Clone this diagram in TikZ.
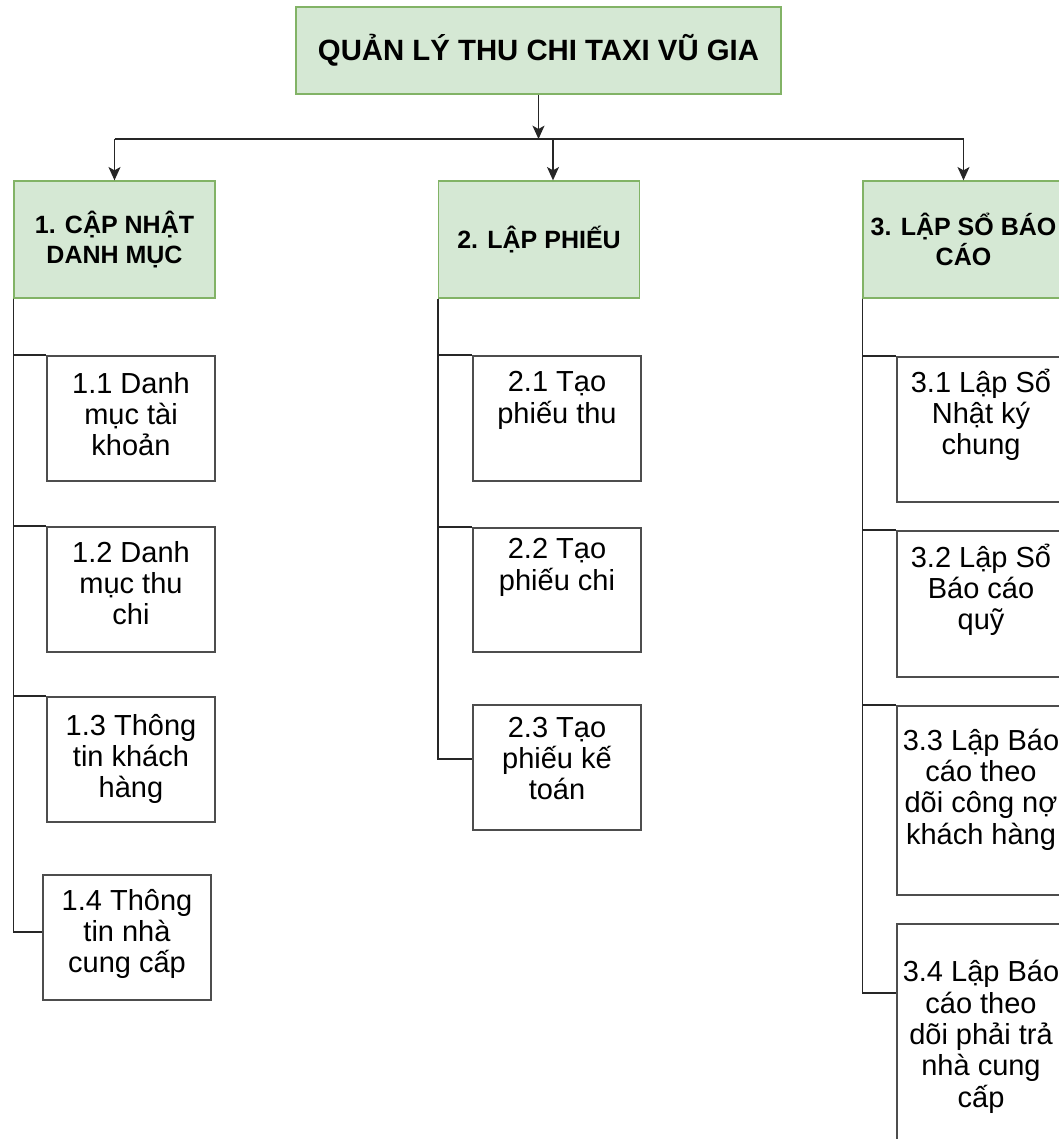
\documentclass[tikz,border=0pt]{standalone}
\usepackage{fontspec}
\setmainfont{Liberation Sans}
\usetikzlibrary{arrows.meta,calc}
\definecolor{gfill}{HTML}{D5E8D4}
\definecolor{gdraw}{HTML}{82B366}
\definecolor{lnc}{HTML}{262626}
\definecolor{bxc}{HTML}{4D4D4D}
\tikzset{
  greenbox/.style={draw=gdraw, fill=gfill, line width=1pt, inner sep=0pt, align=center},
  headbox/.style={greenbox, minimum width=150.75pt, minimum height=87.75pt,
    font=\fontsize{18.75}{22.5}\selectfont\bfseries},
  subbox/.style={draw=bxc, line width=1.3pt, fill=white, minimum width=126pt, minimum height=#1, inner sep=0pt},
  subtext/.style={anchor=base, align=center, inner sep=0pt, font=\fontsize{21.75}{23.5}\selectfont},
  conn/.style={draw=lnc, line width=1.1pt},
  arr/.style={conn, -{Stealth[length=10pt,width=9pt,inset=2.5pt]}}
}
\begin{document}
\begin{tikzpicture}[x=0.75pt,y=-0.75pt]
\useasboundingbox (0,0) rectangle (1059,1139);
% title
\node[greenbox, minimum width=363.75pt, minimum height=65.25pt,
  font=\fontsize{22}{26}\selectfont\bfseries] (title) at (538.5,50.5) {QUẢN LÝ THU CHI TAXI VŨ GIA};
% level 1
\node[headbox] (b1) at (114.5,239.5) {1. CẬP NHẬT\\DANH MỤC};
\node[headbox] (b2) at (539,239.5) {2. LẬP PHIẾU};
\node[headbox] (b3) at (963.5,239.5) {3. LẬP SỔ BÁO\\CÁO};
% junction
\coordinate (jt) at (538.5,139);
\coordinate (jl) at (114.5,139);
\coordinate (jm) at (553,139);
\coordinate (jr) at (963.5,139);
% sub boxes column 1
\node[subbox=93.75pt] (c11) at (131,418.5) {};
\node[subbox=93.75pt] (c12) at (131,589.5) {};
\node[subbox=93.75pt] (c13) at (131,759.5) {};
\node[subbox=93.75pt] (c14) at (127,937.5) {};
% column 2
\node[subbox=93.75pt] (c21) at (557,418.5) {};
\node[subbox=93pt] (c22) at (557,590) {};
\node[subbox=93.75pt] (c23) at (557,767.5) {};
% column 3
\node[subbox=108.75pt] (c31) at (981,429.5) {};
\node[subbox=109.5pt] (c32) at (981,604) {};
\node[subbox=141.75pt] (c33) at (981,800.5) {};
\node[subbox=177pt] (c34) at (981,1042) {};
% texts (anchor = baseline of the last line)
\node[subtext] (t11) at (131,455.7) {1.1 Danh\\mục tài\\khoản};
\node[subtext] (t12) at (131,624.7) {1.2 Danh\\mục thu\\chi};
\node[subtext] (t13) at (131,797.7) {1.3 Thông\\tin khách\\hàng};
\node[subtext] (t14) at (127,972.7) {1.4 Thông\\tin nhà\\cung cấp};
\node[subtext] (t21) at (557,423.3) {2.1 Tạo\\phiếu thu};
\node[subtext] (t22) at (557,590.3) {2.2 Tạo\\phiếu chi};
\node[subtext] (t23) at (557,799.7) {2.3 Tạo\\phiếu kế\\toán};
\node[subtext] (t31) at (981,454.7) {3.1 Lập Sổ\\Nhật ký\\chung};
\node[subtext] (t32) at (981,629.7) {3.2 Lập Sổ\\Báo cáo\\quỹ};
\node[subtext] (t33) at (981,844) {3.3 Lập Báo\\cáo theo\\dõi công nợ\\khách hàng};
\node[subtext] (t34) at (981,1107.3) {3.4 Lập Báo\\cáo theo\\dõi phải trả\\nhà cung\\cấp};
% connectors top
\draw[arr] (title.south) -- (jt);
\draw[conn] (jl) -- (jr);
\draw[arr] (jl) -- (b1.north);
\draw[arr] (jm) -- (jm |- b2.north);
\draw[arr] (jr) -- (b3.north);
% tree connectors
\draw[conn] (b1.south west) |- (c11.north west);
\draw[conn] (b1.south west) |- (c12.north west);
\draw[conn] (b1.south west) |- (c13.north west);
\draw[conn] (b1.south west) |- ($(c14.north west)+(0,58)$);
\draw[conn] (b2.south west) |- (c21.north west);
\draw[conn] (b2.south west) |- (c22.north west);
\draw[conn] (b2.south west) |- ($(c23.north west)+(0,55)$);
\draw[conn] (b3.south west) |- (c31.north west);
\draw[conn] (b3.south west) |- (c32.north west);
\draw[conn] (b3.south west) |- (c33.north west);
\draw[conn] (b3.south west) |- ($(c34.north west)+(0,70)$);
\end{tikzpicture}
\end{document}
